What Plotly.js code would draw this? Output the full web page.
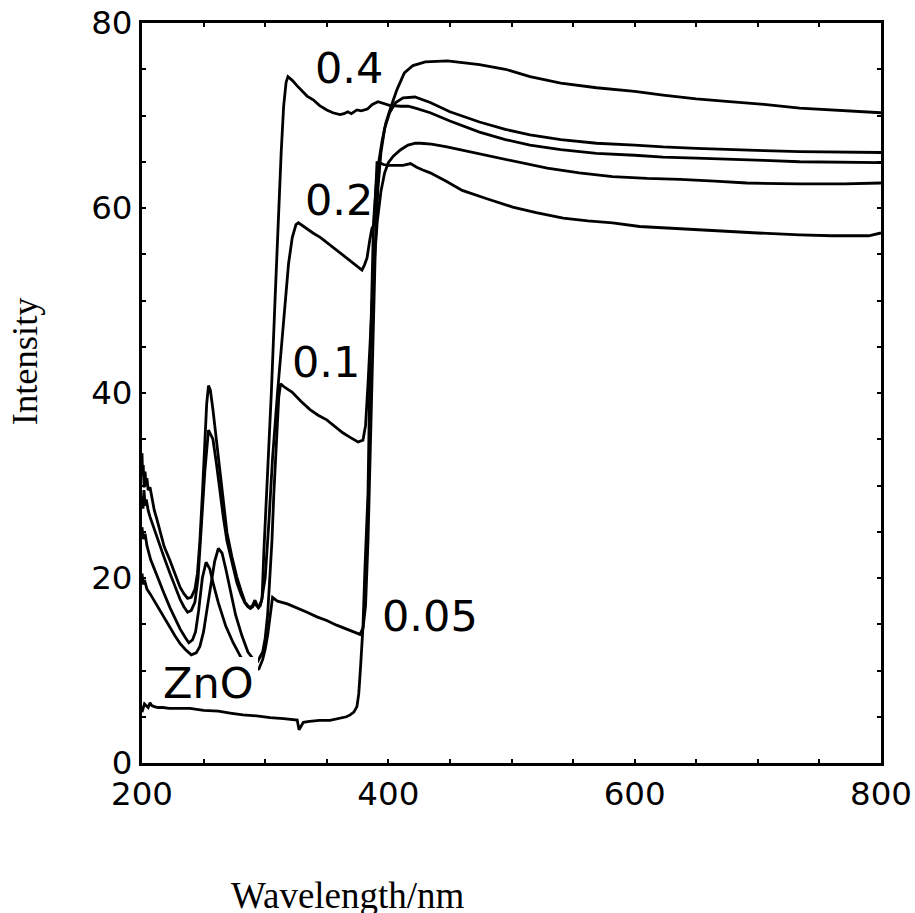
<!DOCTYPE html>
<html>
<head>
<meta charset="utf-8">
<script src="https://cdn.plot.ly/plotly-3.0.1.min.js"></script>
<style>html,body{margin:0;padding:0;background:#fff;}#chart{width:915px;height:913px;}</style>
</head>
<body>
<div id="chart"></div>
<script>
// ---- data ----
var seriesNames = ["ZnO", "0.05", "0.1", "0.2", "0.4"];

var wlZnO = [200,201,202,203.5,205,206.5,208,210,213,217,222,230,239,250,262,271.5,282,293,304,315,322,326,327.5,329,331,336,344,352.6,360,366,369,372,374.5,376,377.5,379.4,381,383.5,385,386.5,388,390,392,395,398,402,407,413,420,430,448,474,495,515,540,569,600,623,650,677,705,734,770,800];
var intZnO = [5.5,6.0,6.4,6.2,6.0,6.5,6.2,6.1,6.0,6.0,5.9,5.9,5.9,5.7,5.6,5.4,5.2,5.1,4.9,4.8,4.75,4.65,3.6,4.0,4.4,4.5,4.6,4.6,4.8,5.0,5.2,5.5,6.1,7.5,10.5,14.7,21,29.2,42,52,58.5,62.3,64.8,67.3,69.2,70.9,72.8,74.6,75.4,75.8,75.9,75.5,75.0,74.2,73.5,73.0,72.6,72.2,71.8,71.5,71.2,70.8,70.5,70.3];

var wl005 = [200,201,202.5,204,207,211,214.6,218,222.7,227,230.9,235,238,241,243.5,246,249,252,255,258,262,268,274,280,286,292,295,298,300,302,304,306,308,310,318,325.8,334,342,350,358,366,372,377,379.5,381.5,383.5,385.5,387.5,389.5,391.5,394,397,401,406,412,421.6,427,434,450,474,495,515,540,569,600,623,650,677,705,734,770,800];
var int005 = [25.5,24.2,24.8,23.5,22.0,20.6,19.5,18.3,16.8,15.6,14.5,13.6,13.0,13.3,14.2,16.5,20.0,21.7,21.0,19.3,17.3,14.8,13.0,11.5,10.4,10.0,10.2,11.2,12.3,13.8,15.8,17.9,17.7,17.5,17.2,16.8,16.3,15.8,15.4,14.9,14.5,14.2,13.9,14.6,17,24,34,46,56,62,66,68.6,70.3,71.4,71.9,72.0,71.7,71.4,70.4,69.3,68.5,67.9,67.4,67.0,66.8,66.6,66.45,66.3,66.2,66.1,66.05,66.0];

var wl01 = [200,201,202,204,207,211,214.6,218,222.7,227,231,235,240,244,247,250,253,256,259,262,265,268,271,276,281,286,290,294,298,300,302,304,305.5,307,309,311,312.5,316,321.8,329,336.4,343,350,357,363,369,375.4,379.4,381.5,383.5,386,388.5,391,394,397,400,404,410,416,422,426,435,447.6,465,488,510,529,555,582,610,637,665,691,734,770,800];
var int01 = [20.5,19.3,19.8,18.8,18.2,17.3,16.5,15.6,14.6,13.7,12.9,12.3,11.7,11.9,12.6,14.2,16.8,19.5,21.8,23.2,22.7,21.0,19.0,16.0,13.8,12.0,11.3,11.0,12.0,13.5,16.0,20.0,24.0,29.0,35.0,39.5,41.0,40.6,40.1,39.1,38.2,37.6,37.1,36.3,35.7,35.2,34.7,34.9,36.5,41,48,54,58.5,61.8,63.8,64.9,65.6,66.3,66.8,67.0,67.0,66.9,66.6,66.1,65.5,64.8,64.3,63.8,63.4,63.2,63.1,62.9,62.7,62.6,62.6,62.7];

var wl02 = [200,200.8,201.6,202.5,203.5,205,206.5,209,211,214.6,218,222.7,227,230.9,234,237,240,243,245.5,248,251,254,257.6,260.5,263.3,266,269,273,277,280.5,283.6,286,288,290,291.7,293,294.5,297,300,303,306,310,313,316,319,322,325,327,332,338.8,345,352.6,359,366.4,372,378.6,380.5,382.7,385,386.7,388.5,389.5,390.8,393,396,400,406,412,418,423,428,434,447,460,480,501,520,542,562,582,604,630,663,700,734,760,790,800];
var int02 = [28.8,27.5,29.5,27.8,28.5,27.3,26.6,25.6,24.8,23.5,22.2,20.5,19.0,17.7,16.9,16.3,16.5,17.4,20,25,31.5,36.0,35.0,32.3,29.2,26.6,24.0,21.6,19.5,18.2,17.3,16.9,16.7,16.9,17.4,17.0,16.8,17.5,20,26,33,40,45,50,54,56.8,58.2,58.4,57.9,57.3,56.8,56.0,55.3,54.6,54.0,53.3,53.8,54.6,56.6,57.8,58.2,61.5,64.9,64.9,64.7,64.6,64.6,64.6,64.8,64.4,64.1,63.8,62.9,61.9,61.0,60.1,59.5,58.9,58.6,58.4,58.0,57.8,57.6,57.3,57.1,57.0,57.0,57.3];

var wl04 = [200,200.5,201,201.7,202.5,203.3,204,205,206.5,208,210,212,214.6,218,222.7,227,230.9,234,237,240,243,245,247,249,251,252.5,254,255.5,257.6,260.5,263.3,266,269,273,277,280.5,283.6,286,288,290,291.7,293,294.5,296,297.5,299,302,305,308,311,313,315,317,318.5,322,326,330,334,339,344,350,355,360.7,364,367,370,374.5,378,383,387,391.6,396,401,410,416,422,434,450,474,495,515,540,569,600,623,650,677,705,734,770,800];
var int04 = [33.5,31.0,32.2,29.8,31.5,30.0,30.8,29.5,29.8,28.6,27.3,26.4,25.0,23.4,21.9,20.3,19.0,18.3,17.8,17.9,18.8,20.5,24,29,35,38.8,40.8,40.3,38.2,34.8,30.9,27.8,24.9,22.3,20.1,18.6,17.4,17.0,16.8,17.1,17.6,17.2,16.8,17.0,17.8,23,31,40,50,60,66,71,73.6,74.2,73.8,73.2,72.6,72.1,71.7,71.1,70.6,70.3,70.1,70.2,70.4,70.2,70.6,70.5,70.7,71.2,71.5,71.3,71.1,71.0,71.0,70.8,70.3,69.4,68.2,67.4,66.8,66.3,65.9,65.7,65.5,65.4,65.3,65.15,65.0,64.95,64.9];

var xTickVals = [200, 400, 600, 800];
var yTickVals = [0, 20, 40, 60, 80];
var xTitle = "Wavelength/nm";
var yTitle = "Intensity";
// label anchor points (nm, intensity) for the curve labels
var labelX = [254, 433.8, 349.4, 359.9, 367.7];
var labelY = [8.7, 15.9, 43.3, 60.9, 75.1];

// ---- build ----
var xs = [wlZnO, wl005, wl01, wl02, wl04];
var ys = [intZnO, int005, int01, int02, int04];
var traces = xs.map(function (x, i) {
  return {
    x: x, y: ys[i], type: "scatter", mode: "lines", name: seriesNames[i],
    line: {color: "#000", width: 2.8}, hoverinfo: "skip"
  };
});

var sansFont = "DejaVu Sans, Arial, sans-serif";
var serifFont = "Liberation Serif, Times New Roman, serif";

var annotations = seriesNames.map(function (n, i) {
  return {
    text: n, x: labelX[i], y: labelY[i], xref: "x", yref: "y",
    showarrow: false, xanchor: "center", yanchor: "middle",
    font: {family: sansFont, size: 43, color: "#000"}
  };
});
annotations.push({
  text: xTitle, xref: "paper", yref: "paper", x: 0.2794, y: -0.179,
  xanchor: "center", yanchor: "middle", showarrow: false,
  font: {family: serifFont, size: 37, color: "#000"}
});
annotations.push({
  text: yTitle, xref: "paper", yref: "paper", x: -0.1587, y: 0.5426,
  xanchor: "center", yanchor: "middle", showarrow: false, textangle: -90,
  font: {family: serifFont, size: 36.5, color: "#000"}
});

var axisCommon = {
  showline: true, linewidth: 3, linecolor: "#000", mirror: "allticks",
  ticks: "inside", ticklen: 4, tickwidth: 2, tickcolor: "#000",
  showgrid: false, zeroline: false,
  tickfont: {family: sansFont, size: 32.5, color: "#000"}
};

var layout = {
  width: 915, height: 913,
  margin: {l: 142, r: 34, t: 23, b: 150, pad: 0},
  paper_bgcolor: "#fff", plot_bgcolor: "#fff",
  showlegend: false,
  xaxis: Object.assign({}, axisCommon, {
    range: [200, 800], tickmode: "array", tickvals: xTickVals,
    ticktext: xTickVals.map(String),
    minor: {dtick: 50, tick0: 200, ticks: "inside", ticklen: 4, tickwidth: 2, tickcolor: "#000", showgrid: false}
  }),
  yaxis: Object.assign({}, axisCommon, {
    range: [0, 80], tickmode: "array", tickvals: yTickVals,
    ticktext: yTickVals.map(String),
    minor: {dtick: 5, tick0: 0, ticks: "inside", ticklen: 4, tickwidth: 2, tickcolor: "#000", showgrid: false}
  }),
  shapes: [{
    type: "rect", xref: "paper", yref: "paper", layer: "above",
    x0: 0.0203, x1: 0.157, y0: 0.0784, y1: 0.1432,
    fillcolor: "#fff", line: {width: 0}
  }],
  annotations: annotations
};

Plotly.newPlot("chart", traces, layout, {staticPlot: true, displayModeBar: false});
</script>
</body>
</html>
